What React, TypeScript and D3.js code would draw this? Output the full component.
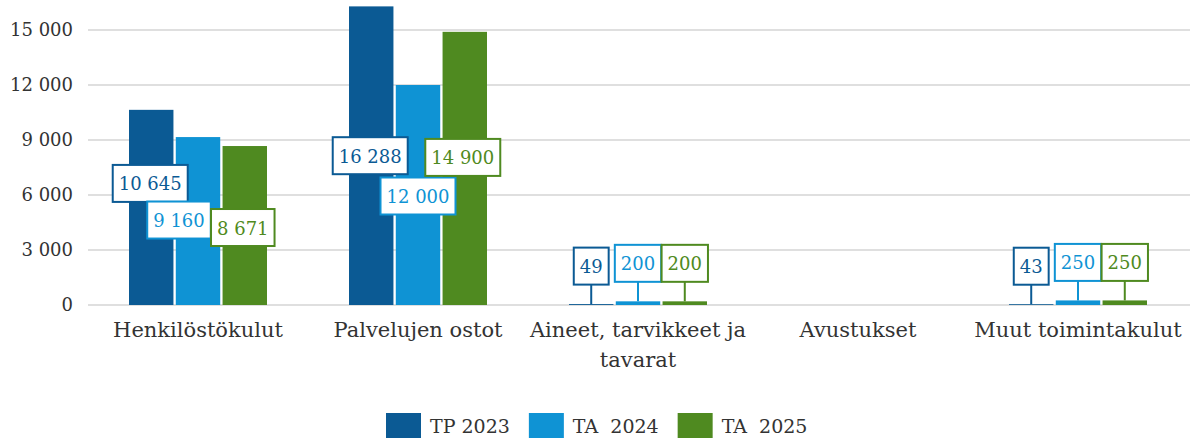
import { useEffect, useRef } from "react";
import * as d3 from "d3";

const categories = [
  ["Henkilöstökulut"],
  ["Palvelujen ostot"],
  ["Aineet, tarvikkeet ja", "tavarat"],
  ["Avustukset"],
  ["Muut toimintakulut"],
];
const seriesNames = ["TP 2023", "TA  2024", "TA  2025"];
const tp2023 = [10645, 16288, 49, null, 43];
const ta2024 = [9160, 12000, 200, null, 250];
const ta2025 = [8671, 14900, 200, null, 250];
const yTicks = [0, 3000, 6000, 9000, 12000, 15000];

const colors = ["#0b5a94", "#0f93d4", "#4f8a20"];
// label nudges [dx, dy] away from the bar's middle (inside labels only)
const labelNudge = [
  [[-1, -24], [-1, 0], null, null, null],
  [[-19, -1], [0, 1], null, null, null],
  [[-2, 2], [-2, -11], null, null, null],
];

const fmt = (v: number) => d3.format(",")(v).replace(/,/g, " ");
const FONT = "'DejaVu Serif', serif";

export default function App() {
  const svgRef = useRef<SVGSVGElement>(null);

  useEffect(() => {
    document.body.style.margin = "0";
    if (!svgRef.current) return;
    const svg = d3.select(svgRef.current);
    svg.selectAll("*").remove();

    const series = [tp2023, ta2024, ta2025];
    const x0 = d3.scaleBand<number>().domain(d3.range(categories.length)).range([88, 1188]);
    const x1 = d3.scaleBand<number>().domain([0, 1, 2]).range([-69, 69]).paddingInner(0.05);
    const y = d3.scaleLinear().domain([0, 15000]).range([305, 30]);

    // grid
    svg.append("g")
      .selectAll("line")
      .data(yTicks)
      .join("line")
      .attr("x1", 88)
      .attr("x2", 1190)
      .attr("y1", (d) => y(d))
      .attr("y2", (d) => y(d))
      .attr("stroke", "#d4d4d4")
      .attr("stroke-width", 1.5);

    svg.append("g")
      .selectAll("text")
      .data(yTicks)
      .join("text")
      .attr("x", 73)
      .attr("y", (d) => y(d) + 6)
      .attr("text-anchor", "end")
      .attr("font-family", FONT)
      .attr("font-size", 18)
      .attr("fill", "#333")
      .text((d) => fmt(d));

    // bars
    series.forEach((vals, si) => {
      svg.append("g")
        .selectAll("rect")
        .data(vals.map((v, ci) => ({ v, ci })).filter((d) => d.v != null))
        .join("rect")
        .attr("x", (d) => x0(d.ci)! + x0.bandwidth() / 2 + x1(si)!)
        .attr("y", (d) => y(d.v as number))
        .attr("width", x1.bandwidth())
        .attr("height", (d) => y(0) - y(d.v as number))
        .attr("fill", colors[si]);
    });

    // labels
    series.forEach((vals, si) => {
      vals.forEach((v, ci) => {
        if (v == null) return;
        const cx = x0(ci)! + x0.bandwidth() / 2 + x1(si)! + x1.bandwidth() / 2;
        const g = svg.append("g");
        const t = g.append("text")
          .attr("font-family", FONT)
          .attr("font-size", 18)
          .attr("fill", colors[si])
          .attr("text-anchor", "middle")
          .text(fmt(v));
        const tw = (t.node() as SVGTextElement).getComputedTextLength();
        const bw = tw + 12;
        const bh = 37;
        const nudge = labelNudge[si][ci];
        let cy: number;
        let bx = cx;
        if (nudge) {
          bx = cx + nudge[0];
          cy = (y(v) + y(0)) / 2 + nudge[1];
        } else {
          cy = y(v) - 38;
          g.append("line")
            .attr("x1", cx)
            .attr("x2", cx)
            .attr("y1", cy + bh / 2)
            .attr("y2", y(v))
            .attr("stroke", colors[si])
            .attr("stroke-width", 2);
        }
        g.insert("rect", "text")
          .attr("x", bx - bw / 2)
          .attr("y", cy - bh / 2)
          .attr("width", bw)
          .attr("height", bh)
          .attr("fill", "#fff")
          .attr("stroke", colors[si])
          .attr("stroke-width", 2);
        t.attr("x", bx).attr("y", cy + 7);
      });
    });

    // category labels
    categories.forEach((lines, ci) => {
      const cx = x0(ci)! + x0.bandwidth() / 2;
      lines.forEach((line, li) => {
        svg.append("text")
          .attr("x", cx)
          .attr("y", 337 + li * 30)
          .attr("text-anchor", "middle")
          .attr("font-family", FONT)
          .attr("font-size", 21)
          .attr("fill", "#333")
          .text(line);
      });
    });

    // legend
    let lx = 386;
    seriesNames.forEach((name, si) => {
      svg.append("rect")
        .attr("x", lx)
        .attr("y", 413)
        .attr("width", 35)
        .attr("height", 25)
        .attr("fill", colors[si]);
      const t = svg.append("text")
        .attr("x", lx + 44)
        .attr("y", 433)
        .attr("font-family", FONT)
        .attr("font-size", 19)
        .attr("fill", "#333")
        .style("white-space", "pre")
        .text(name);
      lx += 44 + (t.node() as SVGTextElement).getComputedTextLength() + 19;
    });
  }, []);

  return <svg ref={svgRef} width={1193} height={439} style={{ display: "block", background: "#fff" }} />;
}
